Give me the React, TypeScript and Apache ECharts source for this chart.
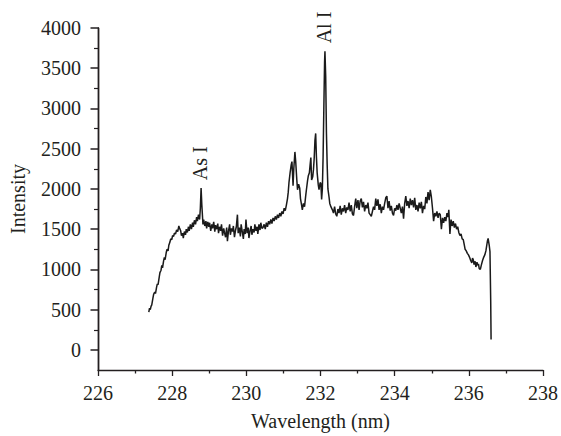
import React, { useEffect, useRef } from "react";
import * as echarts from "echarts";

// Spectrum, split into regions: [wavelength nm, intensity]
const risingEdge: [number, number][] = [
  [227.37, 470], [227.39, 520], [227.41, 500], [227.43, 540], [227.45, 560], [227.48, 640],
  [227.5, 690], [227.53, 720], [227.55, 700], [227.58, 780], [227.6, 820], [227.62, 810],
  [227.65, 900], [227.67, 960], [227.7, 990], [227.72, 1050], [227.74, 1020], [227.77, 1110],
  [227.79, 1150], [227.81, 1120], [227.84, 1210], [227.86, 1250], [227.89, 1230], [227.91, 1300],
  [227.94, 1340], [227.96, 1380], [227.99, 1370], [228.01, 1420], [228.04, 1410], [228.06, 1450],
  [228.09, 1440], [228.12, 1490], [228.15, 1470], [228.18, 1540], [228.2, 1510],
];

const arsenicRegion: [number, number][] = [
  [228.23, 1480], [228.25, 1420], [228.28, 1450], [228.3, 1390], [228.33, 1470], [228.36, 1430],
  [228.38, 1500], [228.41, 1460], [228.44, 1530], [228.46, 1480], [228.49, 1560], [228.52, 1500],
  [228.55, 1580], [228.57, 1530], [228.6, 1610], [228.63, 1560], [228.66, 1650], [228.68, 1600],
  [228.71, 1680], [228.74, 1620], [228.76, 1760], [228.78, 2010], [228.8, 1800], [228.83, 1560],
  [228.85, 1620], [228.88, 1540], [228.91, 1600], [228.93, 1510], [228.96, 1590], [228.99, 1530],
  [229.01, 1580], [229.04, 1480], [229.07, 1560], [229.09, 1510], [229.12, 1590], [229.15, 1470],
  [229.17, 1550], [229.2, 1500], [229.23, 1570], [229.25, 1450], [229.28, 1530], [229.31, 1480],
  [229.33, 1560], [229.36, 1420], [229.39, 1510], [229.41, 1460], [229.44, 1400], [229.47, 1520],
  [229.49, 1350], [229.52, 1480], [229.55, 1560], [229.57, 1430], [229.6, 1510], [229.63, 1470],
  [229.65, 1540], [229.68, 1400], [229.71, 1490], [229.73, 1530], [229.76, 1680], [229.78, 1450],
  [229.81, 1520], [229.84, 1410], [229.86, 1560], [229.89, 1470], [229.92, 1380], [229.94, 1500],
  [229.97, 1440], [229.99, 1620], [230.02, 1450], [230.05, 1520], [230.07, 1390], [230.1, 1480],
  [230.13, 1540], [230.15, 1430], [230.18, 1500], [230.21, 1460], [230.23, 1560], [230.26, 1480],
  [230.29, 1530], [230.31, 1440], [230.34, 1560], [230.37, 1490], [230.39, 1580], [230.42, 1510],
  [230.45, 1520], [230.48, 1560], [230.51, 1500], [230.54, 1580], [230.57, 1530], [230.6, 1600],
  [230.63, 1560], [230.66, 1620], [230.69, 1570], [230.72, 1640], [230.75, 1600], [230.78, 1660],
  [230.81, 1620], [230.84, 1680], [230.87, 1640], [230.9, 1700],
];

const aluminiumRegion: [number, number][] = [
  [230.93, 1660], [230.96, 1720], [230.99, 1690], [231.02, 1760], [231.05, 1730], [231.08, 1800],
  [231.11, 1880], [231.13, 1960], [231.15, 2080], [231.18, 2200], [231.21, 2300], [231.23, 2340],
  [231.26, 2040], [231.28, 2250], [231.31, 2460], [231.33, 2350], [231.36, 2120], [231.38, 1990],
  [231.41, 2060], [231.44, 2010], [231.46, 1880], [231.49, 1800], [231.51, 1740], [231.54, 1820],
  [231.57, 1780], [231.6, 1910], [231.62, 1990], [231.65, 2100], [231.67, 2160], [231.7, 2200],
  [231.72, 2300], [231.74, 2390], [231.76, 2110], [231.79, 2150], [231.81, 2240], [231.83, 2380],
  [231.85, 2600], [231.87, 2690], [231.89, 2400], [231.91, 2200], [231.94, 2050], [231.96, 1990],
  [231.99, 2080], [232.01, 2070], [232.03, 1870], [232.05, 2000], [232.07, 2400], [232.09, 3000],
  [232.11, 3580], [232.12, 3710], [232.14, 3400], [232.16, 2700], [232.18, 2300], [232.2, 2000],
  [232.23, 1900], [232.25, 1820], [232.28, 1780], [232.32, 1740],
];

const plateau: [number, number][] = [
  [232.35, 1700], [232.38, 1780], [232.41, 1690], [232.44, 1660], [232.47, 1750], [232.5, 1700],
  [232.53, 1790], [232.56, 1680], [232.59, 1760], [232.62, 1720], [232.65, 1800], [232.68, 1700],
  [232.71, 1770], [232.74, 1740], [232.77, 1830], [232.8, 1720], [232.83, 1800], [232.86, 1690],
  [232.89, 1670], [232.92, 1780], [232.95, 1880], [232.98, 1760], [233.01, 1860], [233.04, 1740],
  [233.07, 1850], [233.1, 1880], [233.13, 1770], [233.16, 1840], [233.19, 1720], [233.22, 1800],
  [233.25, 1760], [233.28, 1830], [233.31, 1700], [233.34, 1680], [233.37, 1660], [233.4, 1720],
  [233.43, 1780], [233.46, 1740], [233.49, 1880], [233.52, 1790], [233.55, 1870], [233.58, 1740],
  [233.61, 1810], [233.64, 1700], [233.67, 1780], [233.7, 1740], [233.73, 1820], [233.76, 1890],
  [233.79, 1910], [233.82, 1760], [233.85, 1850], [233.88, 1730], [233.91, 1790], [233.94, 1700],
  [233.97, 1670], [234.0, 1760], [234.03, 1730], [234.06, 1800], [234.09, 1740], [234.12, 1820],
  [234.15, 1760], [234.18, 1700], [234.21, 1780], [234.24, 1630], [234.27, 1820], [234.3, 1910],
  [234.33, 1790], [234.36, 1850], [234.39, 1760], [234.42, 1880], [234.45, 1800], [234.48, 1860],
  [234.51, 1770], [234.54, 1890], [234.57, 1740], [234.6, 1800], [234.63, 1720], [234.66, 1830],
  [234.69, 1760], [234.72, 1840], [234.75, 1700], [234.78, 1790], [234.81, 1750], [234.84, 1900],
  [234.87, 1820], [234.9, 1960], [234.93, 1860], [234.96, 1990], [234.99, 1900], [235.02, 1760],
  [235.05, 1600], [235.08, 1700], [235.11, 1660], [235.14, 1720], [235.17, 1640], [235.2, 1700],
  [235.23, 1680],
];

const fallingTail: [number, number][] = [
  [235.26, 1500], [235.29, 1640], [235.32, 1580], [235.35, 1650], [235.38, 1600], [235.41, 1700],
  [235.44, 1650], [235.46, 1740], [235.49, 1440], [235.52, 1620], [235.55, 1540], [235.58, 1600],
  [235.61, 1520], [235.64, 1570], [235.67, 1500], [235.7, 1530], [235.73, 1460], [235.76, 1420],
  [235.79, 1440], [235.82, 1380], [235.85, 1370], [235.88, 1300], [235.9, 1250], [235.93, 1230],
  [235.96, 1200], [235.99, 1180], [236.02, 1150], [236.05, 1110], [236.08, 1080], [236.1, 1140],
  [236.12, 1120], [236.14, 1060], [236.17, 1100], [236.19, 1030], [236.22, 1090], [236.24, 1050],
  [236.26, 1070], [236.28, 1010], [236.31, 1000], [236.34, 1060], [236.37, 1110], [236.4, 1150],
  [236.43, 1180], [236.46, 1230], [236.48, 1290], [236.5, 1350], [236.52, 1385], [236.55, 1300],
  [236.57, 1220], [236.59, 600], [236.6, 130],
];

const yMajorTicks = [0, 500, 1000, 1500, 2000, 2500, 3000, 3500, 4000];
const yMinorTicks = [250, 750, 1250, 1750, 2250, 2750, 3250, 3750];
const X_MIN = 226;

const peakLabels = [
  { text: "As I", wavelength: 228.78, intensity: 2010 },
  { text: "Al I", wavelength: 232.12, intensity: 3710 },
];

const INK = "#231f20";
const FONT = '"Liberation Serif", "Times New Roman", serif';
const FONT_SIZE = 20;

export default function App() {
  const ref = useRef<HTMLDivElement>(null);

  useEffect(() => {
    if (!ref.current) return;
    const chart = echarts.init(ref.current, null, { renderer: "svg" });
    const spectrum = [
      ...risingEdge,
      ...arsenicRegion,
      ...aluminiumRegion,
      ...plateau,
      ...fallingTail,
    ];
    const labelStyle = { color: INK, fontFamily: FONT, fontSize: FONT_SIZE };
    chart.setOption({
      animation: false,
      grid: { left: 98, right: 16, top: 28, bottom: 65 },
      xAxis: {
        type: "value",
        min: X_MIN,
        max: 238,
        interval: 2,
        name: "Wavelength (nm)",
        nameLocation: "middle",
        nameGap: 41,
        nameTextStyle: labelStyle,
        axisLine: { show: true, onZero: false, lineStyle: { color: INK, width: 1.3 } },
        axisTick: { show: true, inside: false, length: 6, lineStyle: { color: INK, width: 1.3 } },
        minorTick: { show: true, splitNumber: 2, length: 3.5, lineStyle: { color: INK, width: 1.3 } },
        axisLabel: { ...labelStyle, margin: 13, formatter: (v: number) => String(v) },
        splitLine: { show: false },
      },
      yAxis: [
        {
          type: "value",
          position: "left",
          min: -250,
          max: 4000,
          interval: 250,
          name: "Intensity",
          nameLocation: "middle",
          nameGap: 70,
          nameTextStyle: labelStyle,
          axisLine: { show: true, lineStyle: { color: INK, width: 1.3 } },
          axisTick: {
            show: true,
            inside: false,
            length: 7.5,
            customValues: yMajorTicks,
            lineStyle: { color: INK, width: 1.5 },
          },
          axisLabel: {
            ...labelStyle,
            margin: 17,
            customValues: yMajorTicks,
            formatter: (v: number) => String(v),
          },
          splitLine: { show: false },
        },
        {
          type: "value",
          position: "left",
          min: -250,
          max: 4000,
          interval: 250,
          axisLine: { show: true, lineStyle: { color: INK, width: 1.3 } },
          axisTick: {
            show: true,
            inside: false,
            length: 4,
            customValues: yMinorTicks,
            lineStyle: { color: INK, width: 1.2 },
          },
          axisLabel: { show: false },
          splitLine: { show: false },
        },
      ],
      series: [
        {
          type: "line",
          data: spectrum,
          showSymbol: false,
          clip: false,
          lineStyle: { color: "#1a1a1a", width: 1.5 },
          markLine: {
            silent: true,
            symbol: ["none", "none"],
            label: { show: false },
            emphasis: { disabled: true },
            lineStyle: { color: INK, width: 1.3, type: "solid" },
            data: [{ xAxis: X_MIN }],
          },
          markPoint: {
            symbol: "circle",
            symbolSize: 0,
            silent: true,
            data: peakLabels.map((p) => ({
              name: p.text,
              coord: [p.wavelength, p.intensity],
              label: {
                show: true,
                formatter: p.text,
                position: [-1, -8],
                rotate: 90,
                align: "left",
                verticalAlign: "middle",
                color: INK,
                fontFamily: FONT,
                fontSize: FONT_SIZE,
              },
            })),
          },
        },
      ],
    });

    return () => chart.dispose();
  }, []);

  return (
    <div
      ref={ref}
      style={{ position: "fixed", left: 0, top: 0, width: 561, height: 436, background: "#fff" }}
    />
  );
}
